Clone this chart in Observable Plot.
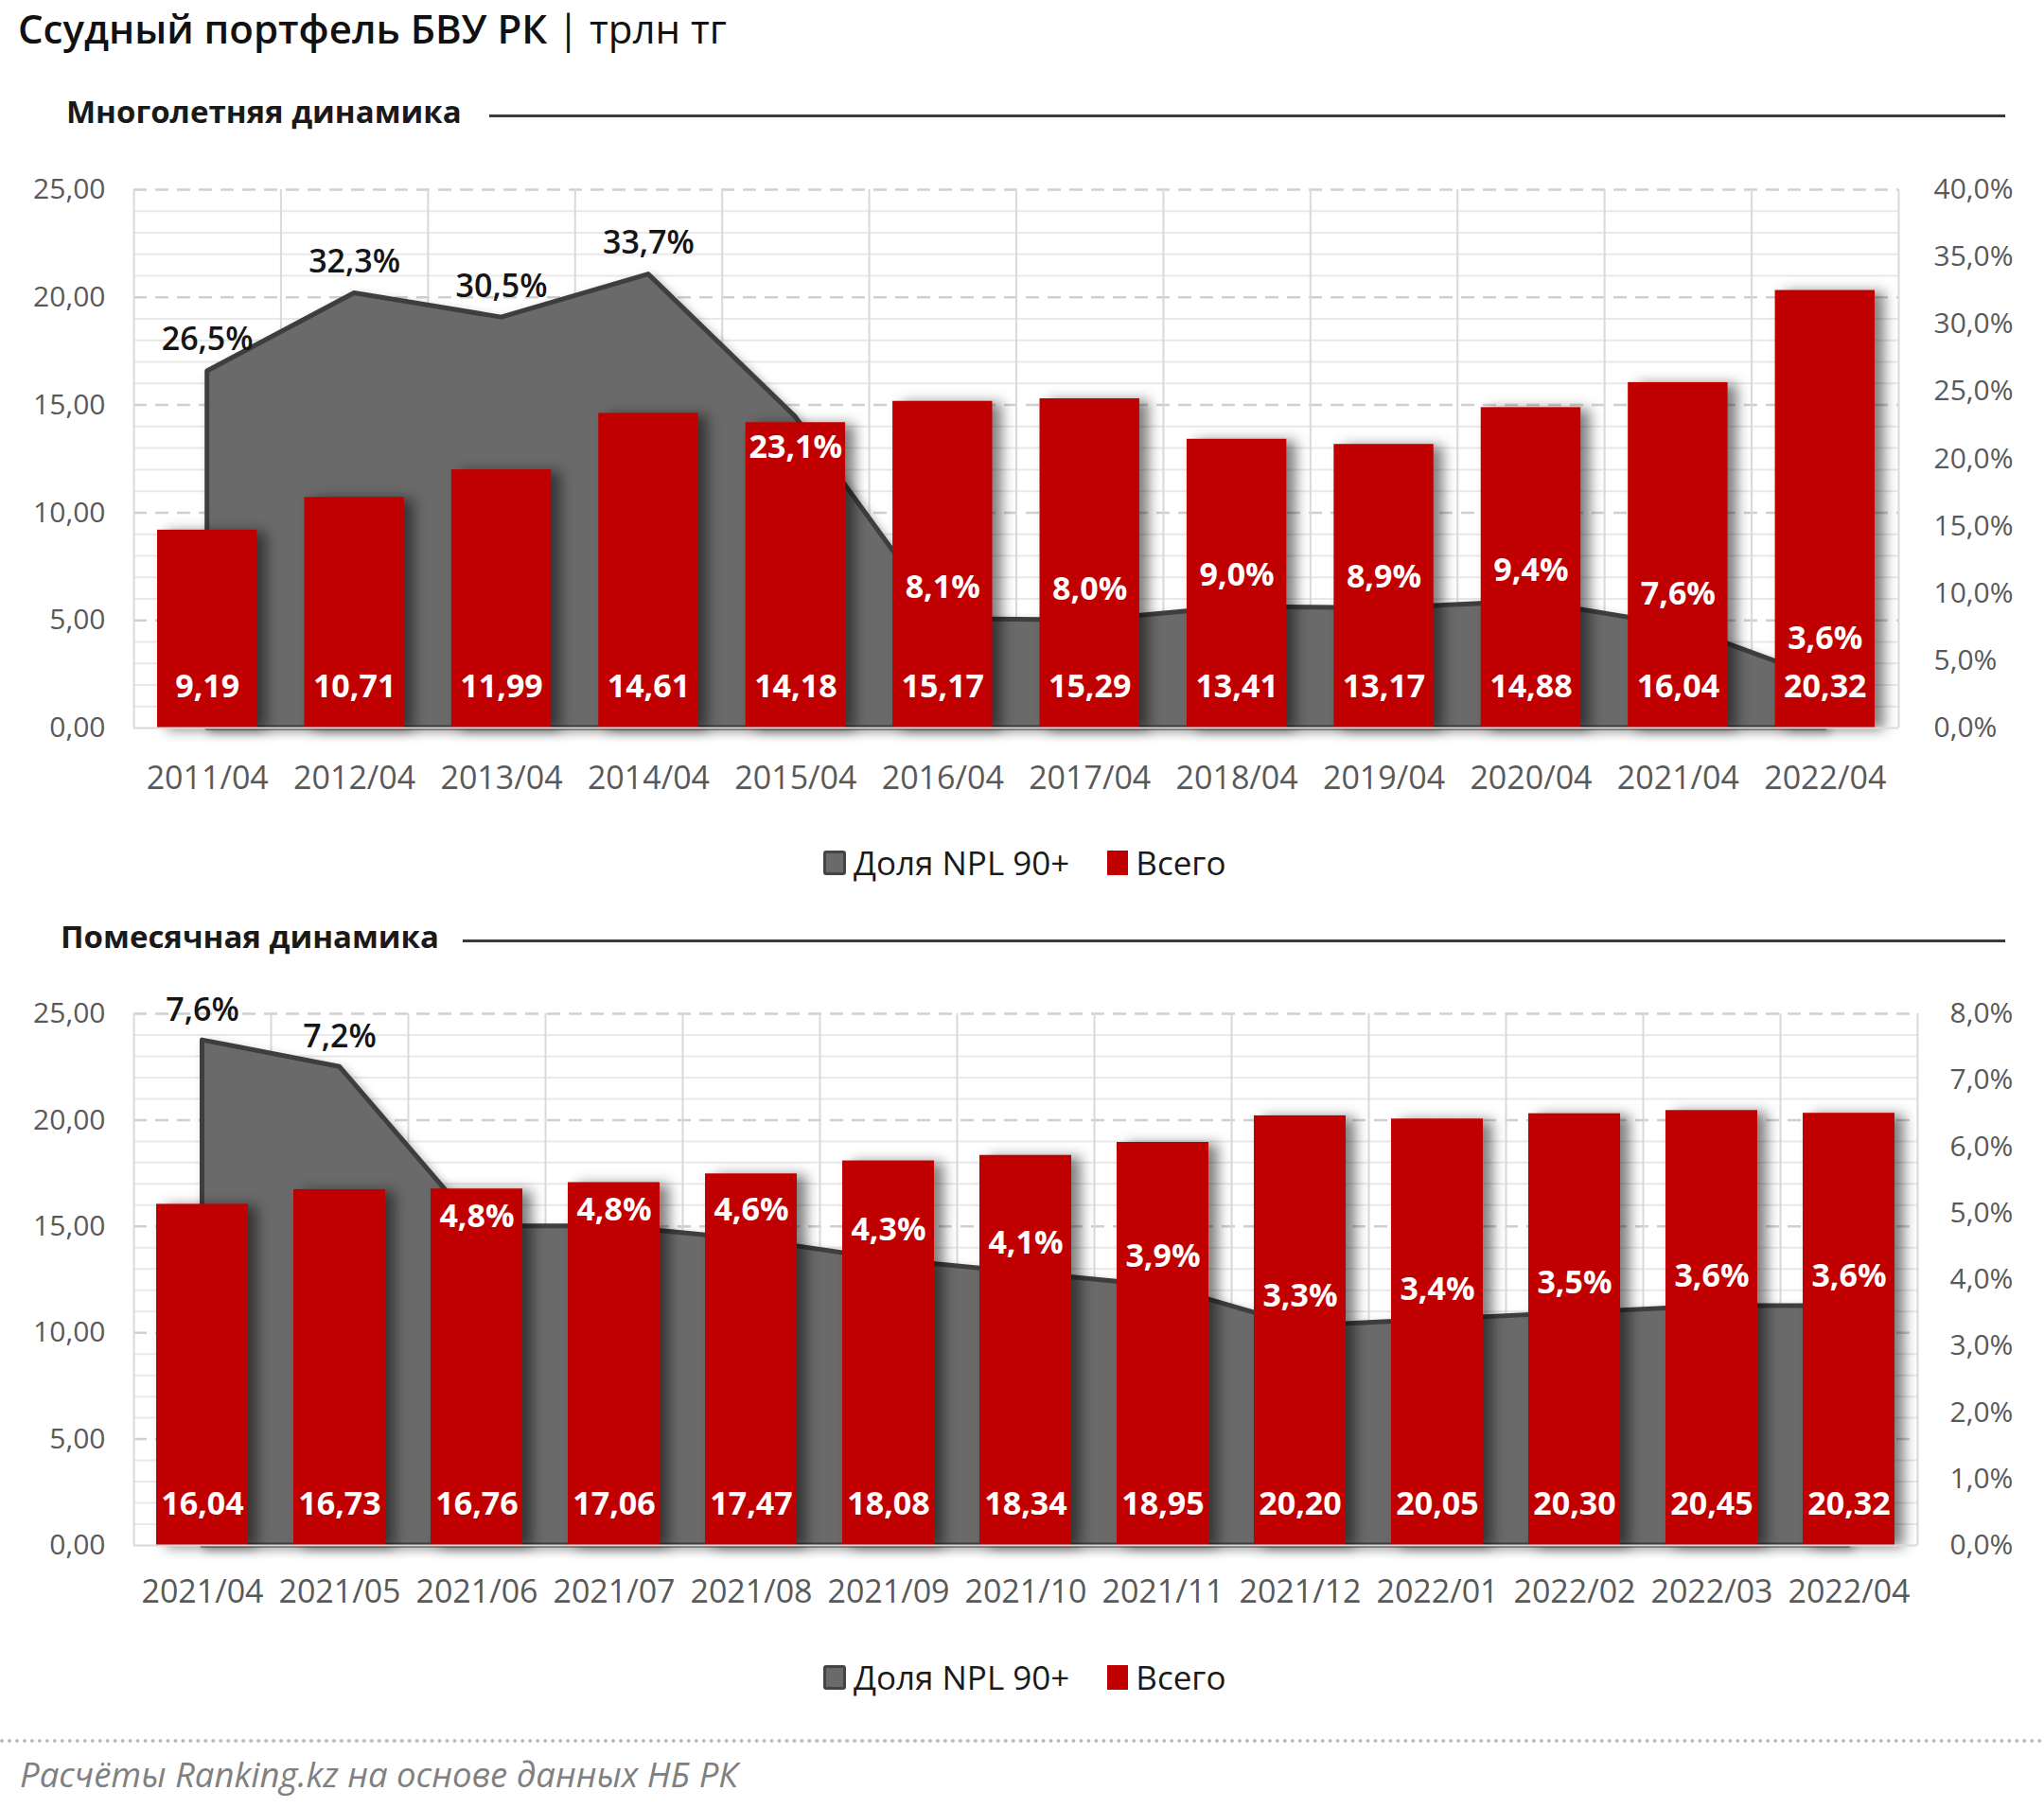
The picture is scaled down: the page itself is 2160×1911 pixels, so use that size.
<!DOCTYPE html>
<html>
<head>
<meta charset="utf-8">
<script src="https://cdn.jsdelivr.net/npm/d3@7"></script>
<script src="https://cdn.jsdelivr.net/npm/@observablehq/plot@0.6"></script>
<style>
  html, body { margin: 0; padding: 0; background: #fff; }
  #root { position: relative; width: 2160px; height: 1911px; overflow: hidden; font-family: "Open Sans", sans-serif; }
  .abs { position: absolute; white-space: nowrap; }
  .title { left: 19px; top: 1px; font-size: 42px; font-weight: 600; color: #111; }
  .title .unit { font-weight: 400; }
  .section { font-size: 33px; font-weight: 700; color: #1a1a1a; }
  .hline { position: absolute; height: 3px; background: #3a3a3a; }
  .legend { font-size: 35px; color: #1a1a1a; display: flex; align-items: center; }
  .sw { display: inline-block; width: 24px; height: 26px; margin-right: 8px; }
  .sw.gray { background: #6a6a6a; border: 3px solid #444; box-sizing: border-box; border-radius: 3px; }
  .sw.red { background: #c00000; width: 22px; }
  .sep { position: absolute; left: 0; width: 2160px; top: 1838px; border-top: 4px dotted #bdbdbd; }
  .source { left: 21px; top: 1850px; font-size: 36.5px; font-style: italic; color: #808080; }
  .chart { position: absolute; left: 0; }
</style>
</head>
<body>
<div id="root">
  <div class="abs title">Ссудный портфель БВУ РК <span class="unit">| трлн тг</span></div>

  <div class="abs section" style="left:70px; top:95px;">Многолетняя динамика</div>
  <div class="hline" style="left:517px; width:1602px; top:121px;"></div>

  <div class="chart" id="chartTop" style="top:150px;"></div>
  <div class="abs legend" style="left:870px; top:888px;"><span class="sw gray"></span>Доля NPL 90+<span class="sw red" style="margin-left:40px;"></span>Всего</div>

  <div class="abs section" style="left:64px; top:967px;">Помесячная динамика</div>
  <div class="hline" style="left:489px; width:1630px; top:993px;"></div>

  <div class="chart" id="chartBottom" style="top:1021px;"></div>
  <div class="abs legend" style="left:870px; top:1749px;"><span class="sw gray"></span>Доля NPL 90+<span class="sw red" style="margin-left:40px;"></span>Всего</div>

  <div class="sep"></div>
  <div class="abs source">Расчёты Ranking.kz на основе данных НБ РК</div>
</div>
<script>
// ---- Data: multi-year dynamics ----
const topCategories = ["2011/04","2012/04","2013/04","2014/04","2015/04","2016/04","2017/04","2018/04","2019/04","2020/04","2021/04","2022/04"];
const topTotal = [9.19, 10.71, 11.99, 14.61, 14.18, 15.17, 15.29, 13.41, 13.17, 14.88, 16.04, 20.32];
const topNpl = [26.5, 32.3, 30.5, 33.7, 23.1, 8.1, 8.0, 9.0, 8.9, 9.4, 7.6, 3.6];
const topLeftTicks = [0, 5, 10, 15, 20, 25];
const topRightTicks = [0, 5, 10, 15, 20, 25, 30, 35, 40];

// ---- Data: monthly dynamics ----
const botCategories = ["2021/04","2021/05","2021/06","2021/07","2021/08","2021/09","2021/10","2021/11","2021/12","2022/01","2022/02","2022/03","2022/04"];
const botTotal = [16.04, 16.73, 16.76, 17.06, 17.47, 18.08, 18.34, 18.95, 20.20, 20.05, 20.30, 20.45, 20.32];
const botNpl = [7.6, 7.2, 4.8, 4.8, 4.6, 4.3, 4.1, 3.9, 3.3, 3.4, 3.5, 3.6, 3.6];
const botLeftTicks = [0, 5, 10, 15, 20, 25];
const botRightTicks = [0, 1, 2, 3, 4, 5, 6, 7, 8];

const fmt2 = v => v.toFixed(2).replace(".", ",");
const fmt1 = v => v.toFixed(1).replace(".", ",") + "%";

function makeChart(o) {
  const n = o.cats.length;
  const leftMax = o.leftTicks[o.leftTicks.length - 1];
  const rightMax = o.rightTicks[o.rightTicks.length - 1];
  const k = leftMax / rightMax;
  const data = o.cats.map((c, i) => ({
    i, cat: c, total: o.total[i], npl: o.npl[i], p: o.npl[i] * k,
    dark: i < o.darkCount
  }));
  data.forEach(d => {
    const above = d.p + o.labelOff;
    d.ly = d.dark ? above : Math.max(o.floor, Math.min(above, d.total - o.clamp));
  });
  const minor = d3.range(0, leftMax + 1, 1).filter(v => v % 5 !== 0);
  const boundaries = d3.range(n + 1).map(i => i - 0.5);

  const svg = Plot.plot({
    width: 2160,
    height: o.height,
    marginLeft: o.marginLeft,
    marginRight: o.marginRight,
    marginTop: o.marginTop,
    marginBottom: o.marginBottom,
    style: { fontFamily: "'Open Sans', sans-serif", background: "transparent", overflow: "visible" },
    x: { type: "linear", domain: [-0.5, n - 0.5] },
    y: { domain: [0, leftMax] },
    marks: [
      Plot.ruleY(minor, { stroke: "#e9e9e9", strokeWidth: 2 }),
      Plot.ruleY(o.leftTicks.slice(1), { stroke: "#d0d0d0", strokeWidth: 2.5, strokeDasharray: "14,9" }),
      Plot.ruleX(boundaries, { stroke: "#d9d9d9", strokeWidth: 2 }),
      Plot.areaY(data, { x: "i", y: "p", fill: "#6a6a6a", stroke: "#3e3e3e", strokeWidth: 5, strokeLinejoin: "round" }),
      Plot.rectY(data, { x1: d => d.i - 0.5, x2: d => d.i + 0.5, y: "total", insetLeft: o.inset, insetRight: o.inset, fill: "#c00000" }),
      Plot.ruleY([0], { stroke: "#d9d9d9", strokeWidth: 2 }),
      Plot.text(data, { x: "i", y: 0, dy: -43, text: d => fmt2(d.total), fill: "white", fontWeight: "bold", fontSize: 34 }),
      Plot.text(data.filter(d => d.dark), { x: "i", y: "ly", text: d => fmt1(d.npl), fill: "#151515", fontWeight: "600", fontSize: 34 }),
      Plot.text(data.filter(d => !d.dark), { x: "i", y: "ly", text: d => fmt1(d.npl), fill: "white", fontWeight: "bold", fontSize: 34 }),
      Plot.axisY({ anchor: "left", label: null, ticks: o.leftTicks, tickFormat: fmt2, tickSize: 0, tickPadding: 30, fontSize: 30, fill: "#595959" }),
      Plot.axisY({ anchor: "right", label: null, ticks: o.rightTicks.map(v => v * k), tickFormat: v => fmt1(v / k), tickSize: 0, tickPadding: o.rightPad, fontSize: 30, fill: "#595959" }),
      Plot.axisX({ label: null, ticks: d3.range(n), tickFormat: i => o.cats[i], tickSize: 0, tickPadding: o.xPad, fontSize: o.xFont, fill: "#595959" })
    ]
  });
  d3.select(svg).selectAll('g[aria-label="rect"]').style("filter", "drop-shadow(10px 2px 7px rgba(0,0,0,0.5))");
  d3.select(svg).selectAll('g[aria-label="area"]').style("filter", "drop-shadow(4px 4px 5px rgba(0,0,0,0.3))");
  return svg;
}

document.getElementById("chartTop").appendChild(makeChart({
  cats: topCategories, total: topTotal, npl: topNpl,
  leftTicks: topLeftTicks, rightTicks: topRightTicks, darkCount: 4,
  height: 719, marginTop: 50, marginBottom: 100, marginLeft: 141, marginRight: 154,
  inset: 25, labelOff: 1.45, clamp: 1.15, floor: 4.15, rightPad: 37, xPad: 40, xFont: 34
}));

document.getElementById("chartBottom").appendChild(makeChart({
  cats: botCategories, total: botTotal, npl: botNpl,
  leftTicks: botLeftTicks, rightTicks: botRightTicks, darkCount: 2,
  height: 712, marginTop: 50, marginBottom: 100, marginLeft: 141, marginRight: 134,
  inset: 24, labelOff: 1.4, clamp: 1.3, floor: 4.15, rightPad: 34, xPad: 36, xFont: 34
}));
</script>
</body>
</html>
